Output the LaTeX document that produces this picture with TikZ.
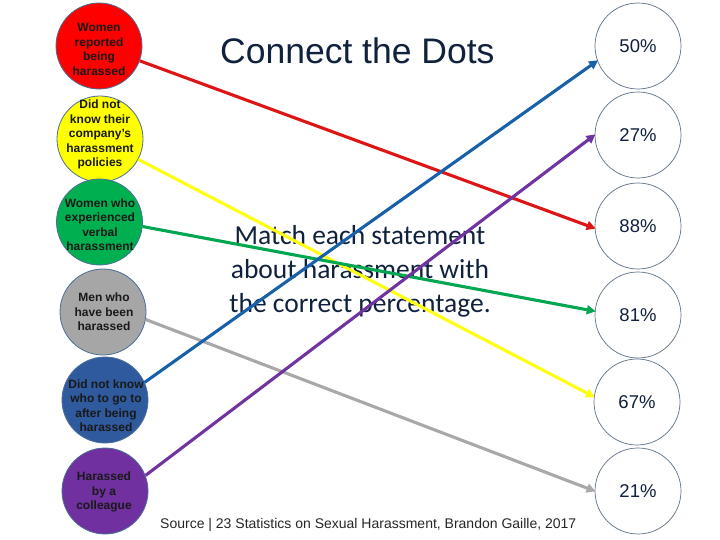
\documentclass[tikz,border=0pt]{standalone}
\usepackage{fontspec}
\setmainfont{Liberation Sans}
\newfontfamily\calib{Carlito}
\usetikzlibrary{arrows.meta}
\definecolor{cred}{HTML}{FF0000}
\definecolor{cyellow}{HTML}{FFFF00}
\definecolor{cgreen}{HTML}{00B050}
\definecolor{cgray}{HTML}{A6A6A6}
\definecolor{cblue}{HTML}{2F5A9E}
\definecolor{cpurple}{HTML}{7030A0}
\definecolor{lred}{HTML}{DD1515}
\definecolor{lyellow}{HTML}{FFFF10}
\definecolor{lgreen}{HTML}{00A650}
\definecolor{lgray}{HTML}{A8A8A8}
\definecolor{lblue}{HTML}{1760AA}
\definecolor{lpurple}{HTML}{7034A2}
\definecolor{edge}{HTML}{4A6F96}
\definecolor{redge}{HTML}{5E7286}
\definecolor{navy}{HTML}{10213D}
\tikzset{
  lcirc/.style={circle, draw=edge, line width=0.8pt, minimum size=86pt, inner sep=0pt},
  rcirc/.style={circle, draw=redge, line width=0.7pt, fill=white, minimum size=86pt, inner sep=0pt},
  ltext/.style={align=center, font=\bfseries\fontsize{12}{14.5}\selectfont, text=black!90, inner sep=0pt},
  ptext/.style={font=\fontsize{18.5}{20}\selectfont, text=navy, inner sep=0pt},
  conn/.style={line width=3.1pt, -{Triangle[length=9pt,width=9pt]}, shorten >=-1pt}
}
\begin{document}
\begin{tikzpicture}[x=1pt,y=-1pt]
\useasboundingbox (0,0) rectangle (720,540);
% left circles
\node[lcirc, fill=cred] (a1) at (99,46) {};
\node[lcirc, fill=cyellow] (a2) at (100,139) {};
\node[lcirc, fill=cgreen] (a3) at (99.5,222) {};
\node[lcirc, fill=cgray] (a4) at (103,312) {};
\node[lcirc, fill=cblue] (a5) at (105,400) {};
\node[lcirc, fill=cpurple] (a6) at (105,491) {};
\node[ltext] (t1) at (99,49.5) {Women\\reported\\being\\harassed};
\node[ltext] (t2) at (100,134.5) {Did not\\know their\\company's\\harassment\\policies};
\node[ltext] (t3) at (100,224.5) {Women who\\experienced\\verbal\\harassment};
\node[ltext] (t4) at (104,312) {Men who\\have been\\harassed};
\node[ltext] (t5) at (106,405.5) {Did not know\\who to go to\\after being\\harassed};
\node[ltext] (t6) at (104,492) {Harassed\\by a\\colleague};
% right circles
\node[rcirc] (b1) at (638,46) {};
\node[rcirc] (b2) at (638,135) {};
\node[rcirc] (b3) at (638,226) {};
\node[rcirc] (b4) at (638,315) {};
\node[rcirc] (b5) at (637,402) {};
\node[rcirc] (b6) at (638,491) {};
\node[ptext] at (b1) {50\%};
\node[ptext] at (b2) {27\%};
\node[ptext] at (b3) {88\%};
\node[ptext] at (b4) {81\%};
\node[ptext] at (b5) {67\%};
\node[ptext] at (b6) {21\%};
% texts
\node[anchor=base west, font=\fontsize{35.5}{40}\selectfont, text=navy, inner sep=0pt] (title) at (220,64) {Connect the Dots};
\node[align=center, font=\calib\fontsize{27.5}{34}\selectfont, text=navy, inner sep=0pt] (mid) at (360,271) {Match each statement\\about harassment with\\the correct percentage.};
\node[anchor=base west, font=\fontsize{14}{16}\selectfont, text=black!85, inner sep=0pt] (src) at (160,528) {Source | 23 Statistics on Sexual Harassment, Brandon Gaille, 2017};
% connectors
\draw[conn, lred] (a1.-20) -- (b3.183);
\draw[conn, lyellow] (a2.-28) -- (b5.173);
\draw[conn, lgreen] (a3.-6) -- (b4.175);
\draw[conn, lgray] (a4.-10) -- (b6.180);
\draw[conn, lblue] (a5.24) -- (b1.200);
\draw[conn, lpurple] (a6.21) -- (b2.180);
\end{tikzpicture}
\end{document}
